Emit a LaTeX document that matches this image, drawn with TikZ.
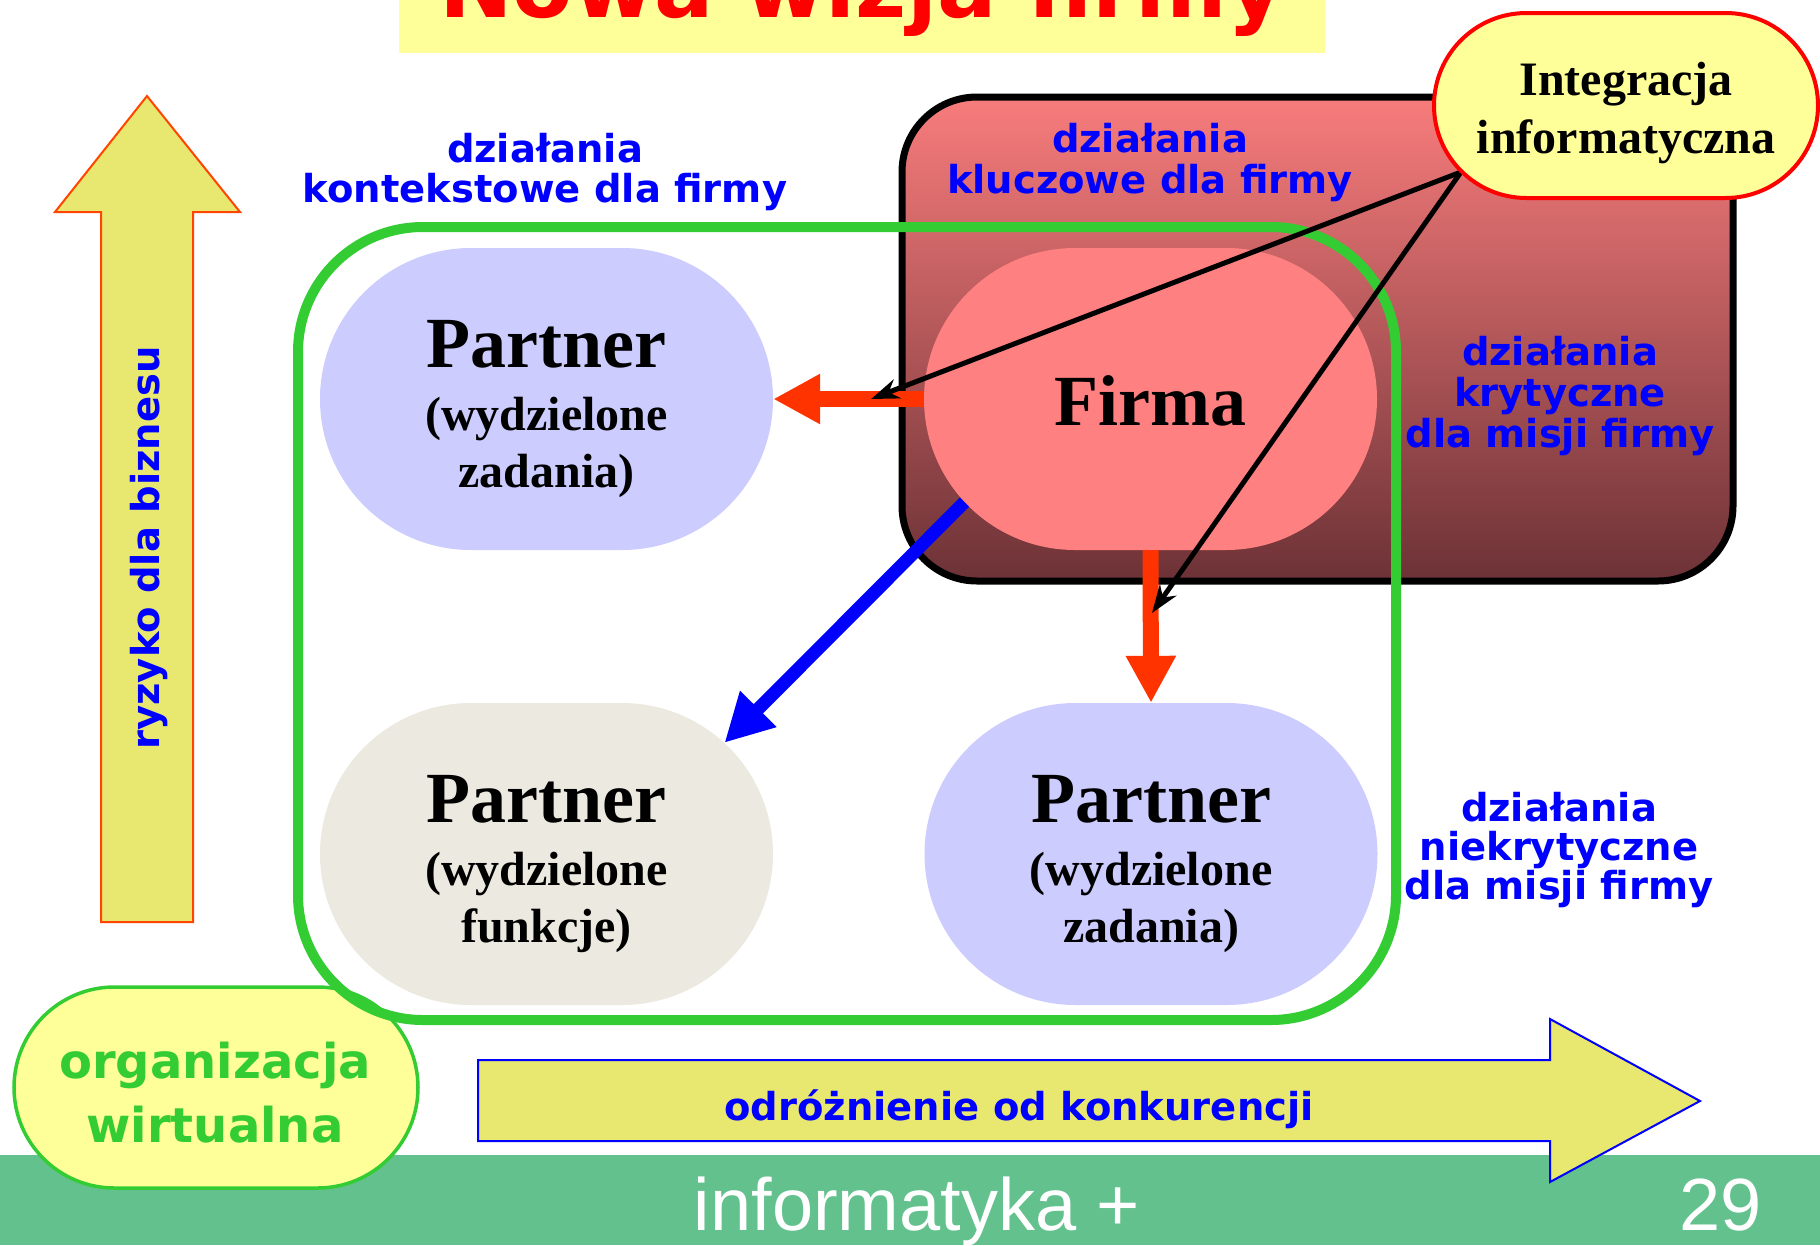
\documentclass[tikz,border=0pt]{standalone}
\usepackage{fontspec}
\usetikzlibrary{shapes.misc,arrows.meta,calc}
\newfontfamily\dvs{DejaVu Sans}
\newfontfamily\tms{Liberation Serif}
\newfontfamily\ars{Liberation Sans}
\definecolor{ylw}{RGB}{255,255,153}
\definecolor{arw}{RGB}{232,232,112}
\definecolor{grn}{RGB}{51,204,51}
\definecolor{barc}{RGB}{99,193,141}
\definecolor{lav}{RGB}{204,204,255}
\definecolor{beige}{RGB}{236,234,224}
\definecolor{salmon}{RGB}{255,128,128}
\definecolor{redor}{RGB}{255,51,0}
\definecolor{orl}{RGB}{255,69,0}
\definecolor{ctop}{RGB}{248,124,124}
\definecolor{cmid}{RGB}{208,102,104}
\definecolor{cbot}{RGB}{108,50,54}
\begin{document}
\begin{tikzpicture}[x=1pt,y=-1pt,
  lbl/.style={font={\dvs\bfseries\fontsize{38.5}{38.5}\selectfont}, text=blue, anchor=base, inner sep=0pt},
  orgt/.style={font={\dvs\bfseries\fontsize{48}{48}\selectfont}, text=grn, anchor=base, inner sep=0pt},
  titl/.style={font={\dvs\bfseries\fontsize{88}{88}\selectfont}, text=red, anchor=base, inner sep=0pt},
  foot/.style={font={\ars\fontsize{74}{74}\selectfont}, text=white, anchor=base, inner sep=0pt},
  bigt/.style={font={\tms\bfseries\fontsize{72}{72}\selectfont}, anchor=base, inner sep=0pt},
  subt/.style={font={\tms\bfseries\fontsize{48}{48}\selectfont}, anchor=base, inner sep=0pt},
  blob/.style={rounded rectangle, minimum width=453pt, minimum height=302pt, inner sep=0pt, draw=none},
  redarrow/.style={redor, line width=16pt, -{Triangle[length=47pt,width=47pt]}},
  thin/.style={black, line width=5pt, -{Stealth[length=28pt,width=20pt]}}
]
\useasboundingbox (0,0) rectangle (1820,1245);
\clip (0,0) rectangle (1820,1245);
\fill[white] (0,0) rectangle (1820,1245);

% footer bar
\fill[barc] (0,1155) rectangle (1820,1245);
\node[foot] (ft) at (917,1230) {informatyka +};
\node[foot] (pg) at (1720.5,1230) {29};

% title
\fill[ylw] (399,0) rectangle (1325,53);
\node[titl] (tt) at (862,17) {Nowa wizja firmy};

% vertical arrow
\draw[orl, line width=2pt, fill=arw] (101,922) -- (101,212) -- (55,212) -- (147,96) -- (240,212) -- (193,212) -- (193,922) -- cycle;
\node[lbl, anchor=center, rotate=90] (rz) at (149,548) {ryzyko dla biznesu};

% horizontal arrow
\draw[blue, line width=2pt, fill=arw] (478,1060) -- (1550,1060) -- (1550,1019) -- (1700,1101) -- (1550,1182) -- (1550,1141) -- (478,1141) -- cycle;
\node[lbl] (od) at (1019,1120) {odróżnienie od konkurencji};

% virtual organization
\node[rounded rectangle, draw=grn, line width=3.5pt, fill=ylw, minimum width=404pt, minimum height=201pt, inner sep=0pt] (org) at (216,1087.5) {};
\node[orgt] (o1) at (215,1078) {organizacja};
\node[orgt] (o2) at (215,1142) {wirtualna};

% core activities box
\node[draw=black, line width=7pt, rounded corners=75pt, minimum width=831pt, minimum height=484pt,
  top color=ctop, middle color=cmid, bottom color=cbot, inner sep=0pt] (core) at (1317.5,339) {};

% blobs
\node[blob, fill=salmon] (firma) at (1150.5,399) {};
\node[blob, fill=lav] (ptl) at (546.5,399) {};
\node[blob, fill=beige] (pbl) at (546.5,854) {};
\node[blob, fill=lav] (pbr) at (1151,854) {};

% green frame
\node[draw=grn, line width=10pt, rounded corners=125pt, minimum width=1098pt, minimum height=793pt, inner sep=0pt] (virt) at (847,623.5) {};

% blob texts
\node[bigt] (ft1) at (1150.5,425) {Firma};
\node[bigt] (a1) at (546.5,367) {Partner};
\node[subt] (a2) at (546.5,430) {(wydzielone};
\node[subt] (a3) at (546.5,487) {zadania)};
\node[bigt] (b1t) at (546.5,822) {Partner};
\node[subt] (b2t) at (546.5,885) {(wydzielone};
\node[subt] (b3t) at (546.5,942) {funkcje)};
\node[bigt] (c1) at (1151,822) {Partner};
\node[subt] (c2) at (1151,885) {(wydzielone};
\node[subt] (c3) at (1151,942) {zadania)};

% labels
\node[lbl] (k1) at (545,162) {działania};
\node[lbl] (k2) at (545,202) {kontekstowe dla firmy};
\node[lbl] (l1) at (1150,152) {działania};
\node[lbl] (l2) at (1150,193) {kluczowe dla firmy};
\node[lbl] (m1) at (1560,365) {działania};
\node[lbl] (m2) at (1560,406) {krytyczne};
\node[lbl] (m3) at (1560,447) {dla misji firmy};
\node[lbl] (n1) at (1559,821) {działania};
\node[lbl] (n2) at (1559,860) {niekrytyczne};
\node[lbl] (n3) at (1559,899) {dla misji firmy};

% connectors
\draw[redarrow] (firma.west) -- (ptl.east);
\draw[redarrow] (firma.south) -- (pbr.north);
\draw[blue, line width=13pt, -{Triangle[length=48pt,width=48pt]}] (firma.209) -- (pbl.32);

\coordinate (ia) at (1461,172);
\coordinate (e1) at (871,399);
\coordinate (e2) at (1152,613);
\draw[thin] (ia) -- (e1);
\draw[thin] (ia) -- (e2);

% integration
\node[rounded rectangle, draw=red, line width=4pt, fill=ylw, minimum width=384pt, minimum height=185pt, inner sep=0pt] (integ) at (1626,105.5) {};
\node[subt] (i1) at (1626,95) {Integracja};
\node[subt] (i2) at (1626,153) {informatyczna};
\end{tikzpicture}
\end{document}
